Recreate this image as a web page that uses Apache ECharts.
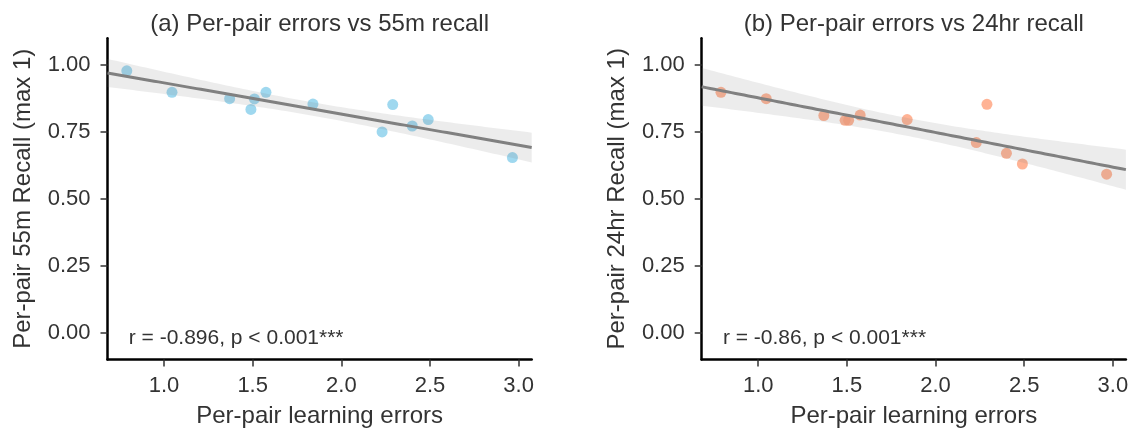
<!DOCTYPE html>
<html>
<head>
<meta charset="utf-8">
<script src="https://cdn.jsdelivr.net/npm/echarts@6/dist/echarts.min.js"></script>
<style>
  html, body { margin: 0; padding: 0; background: #ffffff; }
  #chart { width: 1131px; height: 432px; }
</style>
</head>
<body>
<div id="chart"></div>
<script>
// Per-pair learning errors (shared x for both panels)
const learningErrors = [0.79, 1.045, 1.37, 1.49, 1.51, 1.575, 1.84, 2.23, 2.29, 2.40, 2.49, 2.965];
// Per-pair recall after 55 minutes and after 24 hours (max 1)
const recall55m  = [0.978, 0.898, 0.874, 0.834, 0.873, 0.898, 0.854, 0.750, 0.852, 0.772, 0.796, 0.654];
const recall24hr = [0.898, 0.874, 0.811, 0.793, 0.793, 0.813, 0.796, 0.710, 0.853, 0.670, 0.630, 0.592];

const xTicks = [1.0, 1.5, 2.0, 2.5, 3.0];
const yTicks = [0.0, 0.25, 0.5, 0.75, 1.0];

const panelTitles = ['(a) Per-pair errors vs 55m recall', '(b) Per-pair errors vs 24hr recall'];
const yAxisNames = ['Per-pair 55m Recall (max 1)', 'Per-pair 24hr Recall (max 1)'];
const xAxisName = 'Per-pair learning errors';
const statLabels = ['r = -0.896, p < 0.001***', 'r = -0.86, p < 0.001***'];
const pointColors = ['#87ceeb', '#ffa07a'];

const FONT = '"Liberation Sans", Arial, Helvetica, sans-serif';
const TEXT = '#333333';
const T975 = 2.228; // two-sided 95% t quantile, 10 degrees of freedom

// x range padded by 5% of the data span on each side
const xLo = Math.min(...learningErrors), xHi = Math.max(...learningErrors);
const xMin = xLo - 0.05 * (xHi - xLo);
const xMax = xHi + 0.05 * (xHi - xLo);
const yMin = -0.1, yMax = 1.1;

// Ordinary least squares fit with a 95% confidence band for the mean
function regression(xs, ys) {
  const n = xs.length;
  const mx = xs.reduce((a, b) => a + b, 0) / n;
  const my = ys.reduce((a, b) => a + b, 0) / n;
  let sxx = 0, sxy = 0;
  for (let i = 0; i < n; i++) {
    sxx += (xs[i] - mx) * (xs[i] - mx);
    sxy += (xs[i] - mx) * (ys[i] - my);
  }
  const slope = sxy / sxx;
  const icpt = my - slope * mx;
  let sse = 0;
  for (let i = 0; i < n; i++) {
    const r = ys[i] - (icpt + slope * xs[i]);
    sse += r * r;
  }
  const s = Math.sqrt(sse / (n - 2));
  const line = [], upper = [], lower = [];
  const steps = 100;
  for (let k = 0; k <= steps; k++) {
    const x = xMin + (xMax - xMin) * k / steps;
    const yh = icpt + slope * x;
    const half = T975 * s * Math.sqrt(1 / n + (x - mx) * (x - mx) / sxx);
    line.push([x, yh]);
    upper.push([x, yh + half]);
    lower.push([x, yh - half]);
  }
  return { line, upper, lower };
}

const grids = [
  { left: 107.5, top: 38.2, width: 424.2, height: 321.2 },
  { left: 701.7, top: 38.2, width: 424.2, height: 321.2 }
];

const recallSets = [recall55m, recall24hr];

const xAxes = [], yAxes = [], series = [], graphics = [];

recallSets.forEach((ys, i) => {
  const fit = regression(learningErrors, ys);
  const g = grids[i];

  xAxes.push({
    type: 'value', gridIndex: i, min: xMin, max: xMax,
    axisLine: { show: true, onZero: false, lineStyle: { color: '#000', width: 2.5 } },
    axisTick: { show: true, customValues: xTicks, length: 7, lineStyle: { color: TEXT, width: 1.5 } },
    axisLabel: { customValues: xTicks, formatter: v => v.toFixed(1), margin: 16,
                 color: TEXT, fontSize: 22, fontFamily: FONT },
    splitLine: { show: false },
    name: xAxisName, nameLocation: 'middle', nameGap: 45,
    nameTextStyle: { color: TEXT, fontSize: 24, fontFamily: FONT }
  });

  yAxes.push({
    type: 'value', gridIndex: i, min: yMin, max: yMax,
    axisLine: { show: true, onZero: false, lineStyle: { color: '#000', width: 2.5 } },
    axisTick: { show: true, customValues: yTicks, length: 7, lineStyle: { color: TEXT, width: 1.5 } },
    axisLabel: { customValues: yTicks, formatter: v => v.toFixed(2), margin: 17,
                 color: TEXT, fontSize: 22, fontFamily: FONT },
    splitLine: { show: false },
    name: yAxisNames[i], nameLocation: 'middle', nameGap: 72.5, nameRotate: 90,
    nameTextStyle: { color: TEXT, fontSize: 24, fontFamily: FONT }
  });

  // observed pairs
  series.push({
    type: 'scatter', xAxisIndex: i, yAxisIndex: i, z: 2,
    symbolSize: 11,
    itemStyle: { color: pointColors[i], opacity: 0.8 },
    data: learningErrors.map((x, k) => [x, ys[k]]),
    silent: true
  });

  // 95% confidence band
  series.push({
    type: 'custom', xAxisIndex: i, yAxisIndex: i, z: 3,
    data: [fit.line[0]],
    silent: true,
    renderItem: (params, api) => {
      const pts = fit.upper.map(p => api.coord(p))
        .concat(fit.lower.slice().reverse().map(p => api.coord(p)));
      return { type: 'polygon', shape: { points: pts },
               style: { fill: 'rgba(128,128,128,0.15)' } };
    }
  });

  // fitted line
  series.push({
    type: 'line', xAxisIndex: i, yAxisIndex: i, z: 4,
    showSymbol: false, smooth: false,
    lineStyle: { color: '#808080', width: 3 },
    data: fit.line,
    silent: true
  });

  // panel title, centred on its grid
  graphics.push({
    type: 'text', x: g.left + g.width / 2, y: 12,
    style: { text: panelTitles[i], fill: TEXT, font: '24px ' + FONT,
             textAlign: 'center', textVerticalAlign: 'top' }
  });
  // correlation statistic in the lower-left corner
  graphics.push({
    type: 'text', x: g.left + 0.05 * g.width, y: 328,
    style: { text: statLabels[i], fill: TEXT, font: '21px ' + FONT,
             textAlign: 'left', textVerticalAlign: 'top' }
  });
});

const chart = echarts.init(document.getElementById('chart'), null, { renderer: 'canvas' });
chart.setOption({
  animation: false,
  backgroundColor: '#ffffff',
  grid: grids.map(g => Object.assign({ containLabel: false, outerBoundsMode: 'none' }, g)),
  xAxis: xAxes,
  yAxis: yAxes,
  series: series,
  graphic: graphics
});
</script>
</body>
</html>
